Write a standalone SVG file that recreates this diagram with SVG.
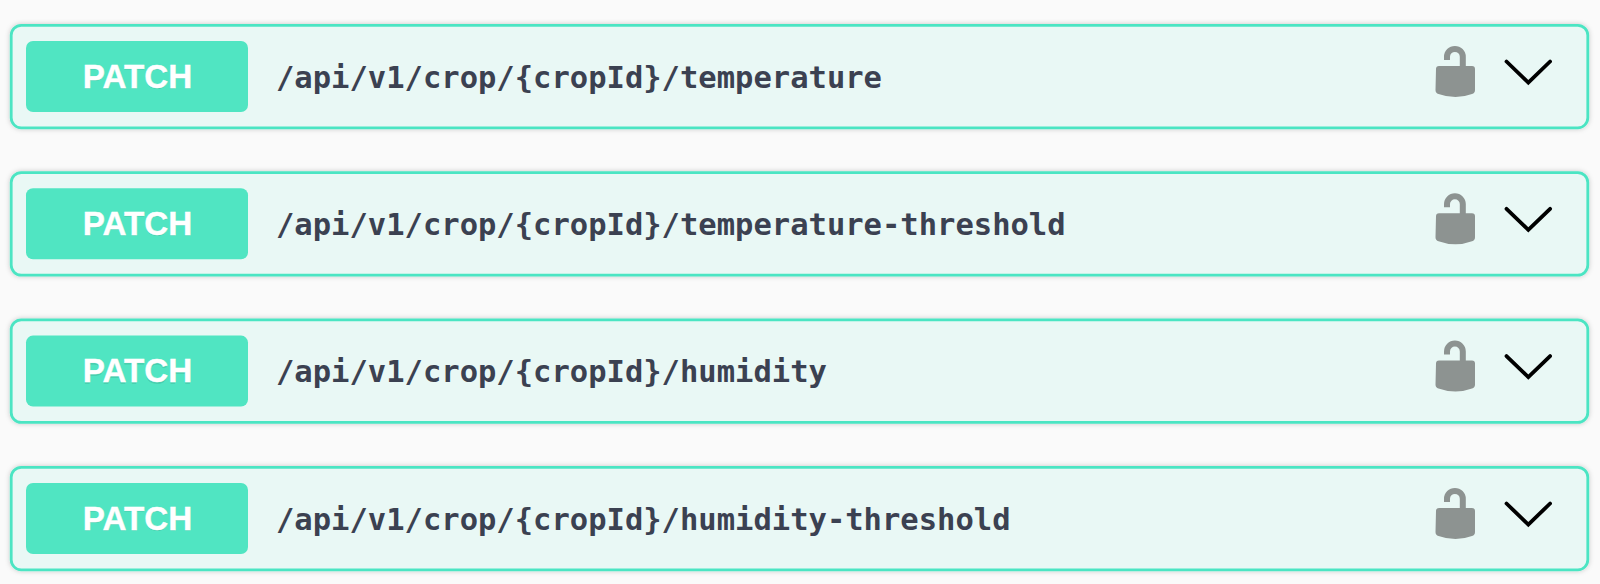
<svg xmlns="http://www.w3.org/2000/svg" width="1600" height="584" viewBox="0 0 1600 584">
<style>
.card{fill:#e9f8f5;stroke:#4ce5c3;stroke-width:2.8}
.btn{fill:#50e5c2}
.m{font:700 33.2px "Liberation Sans",Arial,sans-serif;fill:#fff;stroke:#fff;stroke-width:.4;text-anchor:middle}
.ms{font:700 33.2px "Liberation Sans",Arial,sans-serif;fill:#000;fill-opacity:.1;text-anchor:middle}
.p{font:700 30.5px "DejaVu Sans Mono","Liberation Mono",monospace;fill:#3b4151}
.chev{fill:none;stroke:#000;stroke-width:3.8;stroke-linecap:round;stroke-linejoin:miter}
.lock{fill:#8d9391}
.shack{fill:none;stroke:#8d9391;stroke-width:6}
</style>
<defs>
<filter id="sh" x="-2%" y="-20%" width="104%" height="140%"><feDropShadow dx="0" dy="0" stdDeviation="2.500" flood-color="#000" flood-opacity=".2"/></filter>
<g id="icons">
<path class="shack" d="M1447 60v-3.200a7.900 7.900 0 0 1 15.800 0v11"/>
<path class="lock" d="M1436 69q0-3 3-3h33q3 0 3 3v21q0 3-3 4q-8 3-16.500 3q-9 0-17-3q-3-1-3-4z"/>
<path class="chev" d="M1506.500 61.500l21.800 21l21.800-21"/>
</g>
</defs>
<rect width="1600" height="584" fill="#fafafa"/>
<g id="row1">
<rect class="card" x="11.200" y="25.300" width="1576.600" height="102.500" rx="10" filter="url(#sh)"/>
<rect class="btn" x="26" y="41" width="222" height="71" rx="7"/>
<text class="ms" x="137.500" y="89">PATCH</text><text class="m" x="137.500" y="87.500">PATCH</text>
<text class="p" x="276" y="87.500">/api/v1/crop/{cropId}/temperature</text>
<use href="#icons"/>
</g>
<g id="row2" transform="translate(0 147.300)">
<rect class="card" x="11.200" y="25.300" width="1576.600" height="102.500" rx="10" filter="url(#sh)"/>
<rect class="btn" x="26" y="41" width="222" height="71" rx="7"/>
<text class="ms" x="137.500" y="89">PATCH</text><text class="m" x="137.500" y="87.500">PATCH</text>
<text class="p" x="276" y="87.500">/api/v1/crop/{cropId}/temperature-threshold</text>
<use href="#icons"/>
</g>
<g id="row3" transform="translate(0 294.600)">
<rect class="card" x="11.200" y="25.300" width="1576.600" height="102.500" rx="10" filter="url(#sh)"/>
<rect class="btn" x="26" y="41" width="222" height="71" rx="7"/>
<text class="ms" x="137.500" y="89">PATCH</text><text class="m" x="137.500" y="87.500">PATCH</text>
<text class="p" x="276" y="87.500">/api/v1/crop/{cropId}/humidity</text>
<use href="#icons"/>
</g>
<g id="row4" transform="translate(0 442)">
<rect class="card" x="11.200" y="25.300" width="1576.600" height="102.500" rx="10" filter="url(#sh)"/>
<rect class="btn" x="26" y="41" width="222" height="71" rx="7"/>
<text class="ms" x="137.500" y="89">PATCH</text><text class="m" x="137.500" y="87.500">PATCH</text>
<text class="p" x="276" y="87.500">/api/v1/crop/{cropId}/humidity-threshold</text>
<use href="#icons"/>
</g>
</svg>
